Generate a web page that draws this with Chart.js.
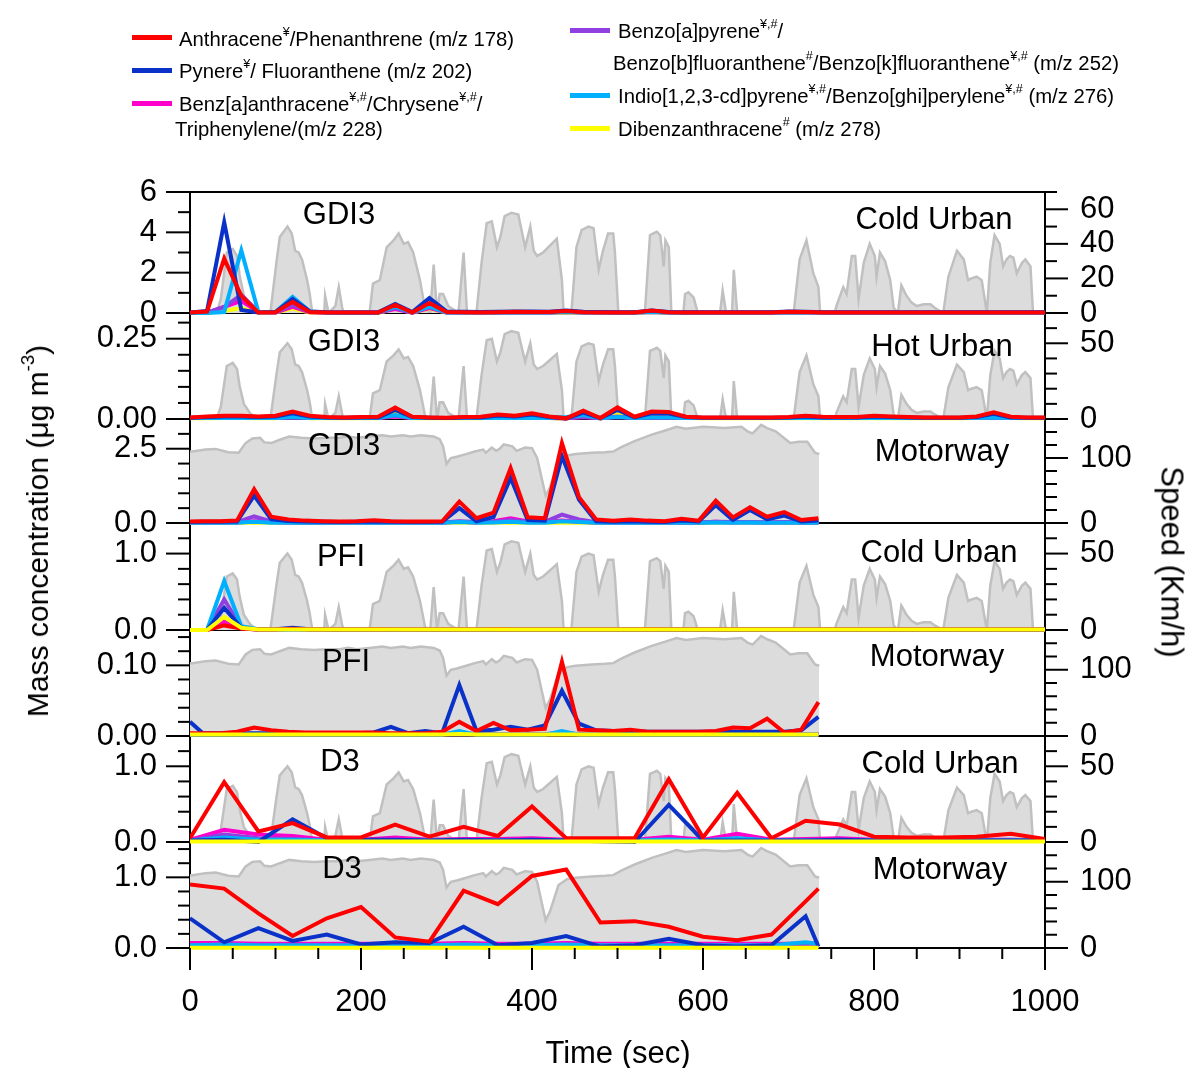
<!DOCTYPE html>
<html><head><meta charset="utf-8">
<script src="https://cdn.jsdelivr.net/npm/chart.js@4.4.1/dist/chart.umd.min.js"></script>
<style>
html,body{margin:0;padding:0;background:#fff;}
#wrap{position:relative;width:1192px;height:1068px;overflow:hidden;font-family:Arial,"Liberation Sans",sans-serif;color:#000;}
#c{position:absolute;left:0;top:0;}
.t{position:absolute;white-space:nowrap;line-height:1;}
.lg{font-size:20.3px;transform:translateY(-50%);}
.sw{position:absolute;width:40px;height:5px;}
.big{font-size:31px;transform:translate(-50%,-50%);}
sup{font-size:0.62em;line-height:0;vertical-align:0.75em;}
</style></head>
<body><div id="wrap">
<canvas id="c" width="1192" height="1068"></canvas>
<div class="sw" style="left:132px;top:35px;background:#ff0000"></div>
<div class="t lg" style="left:179px;top:39px">Anthracene<sup>¥</sup>/Phenanthrene (m/z 178)</div>
<div class="sw" style="left:132px;top:68px;background:#0a32c8"></div>
<div class="t lg" style="left:179px;top:71px">Pynere<sup>¥</sup>/ Fluoranthene (m/z 202)</div>
<div class="sw" style="left:132px;top:101px;background:#ff00cc"></div>
<div class="t lg" style="left:179px;top:104px">Benz[a]anthracene<sup>¥,#</sup>/Chrysene<sup>¥,#</sup>/</div>
<div class="t lg" style="left:175px;top:129px">Triphenylene/(m/z 228)</div>
<div class="sw" style="left:570px;top:28px;background:#9040e0"></div>
<div class="t lg" style="left:618px;top:31px">Benzo[a]pyrene<sup>¥,#</sup>/</div>
<div class="t lg" style="left:613px;top:63px">Benzo[b]fluoranthene<sup>#</sup>/Benzo[k]fluoranthene<sup>¥,#</sup> (m/z 252)</div>
<div class="sw" style="left:570px;top:93px;background:#00b0ff"></div>
<div class="t lg" style="left:618px;top:96px">Indio[1,2,3-cd]pyrene<sup>¥,#</sup>/Benzo[ghi]perylene<sup>¥,#</sup> (m/z 276)</div>
<div class="sw" style="left:570px;top:126px;background:#ffff00"></div>
<div class="t lg" style="left:618px;top:129px">Dibenzanthracene<sup>#</sup> (m/z 278)</div>

<div class="t" style="left:38px;top:531px;font-size:30px;transform:translate(-50%,-50%) rotate(-90deg)">Mass concentration (μg m<sup>-3</sup>)</div>
<div class="t" style="left:1172px;top:562px;font-size:31px;transform:translate(-50%,-50%) rotate(90deg)">Speed (Km/h)</div>
<div class="t big" style="left:618px;top:1052px">Time (sec)</div>
<div id="labels"></div>
</div>
<script>
// ---------------- DATA ----------------
const tUrban20 = [0,20,40,60,80,100,120,140,160,180,200,220,240,260,280,300,320,340,360,380,400,420,440,460,480,500,520,540,560,580,600,620,640,660,680,700,720,740,760,780,800,820,840,860,880,900,920,940,960,980,1000];
const tMotor = [0,15,35,55,75,95,115,135,155,175,195,215,235,255,275,295,315,335,355,375,395,415,435,455,475,495,515,535,555,575,595,615,635,655,675,695,715,735];
const tUrban40 = [0,40,80,120,160,200,240,280,320,360,400,440,480,520,560,600,640,680,720,760,800,840,880,920,960,1000];
const tMotor40 = [0,40,80,120,160,200,240,280,320,360,400,440,480,520,560,600,640,680,720,735];

// Panel 1: GDI3 Cold Urban
const p1Red = [0.02,0.07,2.70,0.85,0.02,0.04,0.55,0.05,0.02,0.02, 0.02,0.02,0.40,0.02,0.50,0.05,0.04,0.03,0.04,0.06, 0.05,0.05,0.10,0.04,0.03,0.03,0.03,0.12,0.04,0.03, 0.03,0.03,0.03,0.03,0.03,0.06,0.05,0.03,0.03,0.03, 0.03,0.03,0.03,0.03,0.03,0.03,0.03,0.03,0.03,0.03,0.03];
const p1Blue = [0.03,0.10,4.50,0.15,0.02,0.05,0.70,0.08,0.04,0.03, 0.03,0.03,0.45,0.05,0.74,0.08,0.06,0.05,0.06,0.08, 0.07,0.06,0.12,0.06,0.05,0.04,0.04,0.12,0.05,0.04, 0.04,0.04,0.04,0.04,0.04,0.07,0.06,0.04,0.04,0.04, 0.04,0.04,0.04,0.04,0.04,0.04,0.04,0.04,0.04,0.04,0.04];
const p1Magenta = [0.00,0.02,0.30,0.60,0.05,0.03,0.30,0.04,0.02,0.02, 0.02,0.02,0.20,0.02,0.25,0.03,0.02,0.02,0.02,0.03, 0.02,0.02,0.05,0.02,0.02,0.02,0.02,0.05,0.02,0.02, 0.02,0.02,0.02,0.02,0.02,0.02,0.02,0.02,0.02,0.02, 0.02,0.02,0.02,0.02,0.02,0.02,0.02,0.02,0.02,0.02,0.02];
const p1Purple = [0.00,0.02,0.30,0.90,0.05,0.03,0.40,0.05,0.02,0.02, 0.02,0.02,0.25,0.02,0.35,0.03,0.02,0.02,0.02,0.03, 0.02,0.02,0.06,0.02,0.02,0.02,0.02,0.06,0.02,0.02, 0.02,0.02,0.02,0.02,0.02,0.02,0.02,0.02,0.02,0.02, 0.02,0.02,0.02,0.02,0.02,0.02,0.02,0.02,0.02,0.02,0.02];
const p1Cyan = [0.00,0.00,0.05,3.10,0.05,0.05,0.80,0.08,0.03,0.02, 0.02,0.02,0.30,0.03,0.30,0.03,0.02,0.02,0.02,0.03, 0.02,0.02,0.05,0.02,0.02,0.02,0.02,0.05,0.02,0.02, 0.02,0.02,0.02,0.02,0.02,0.02,0.02,0.02,0.02,0.02, 0.02,0.02,0.02,0.02,0.02,0.02,0.02,0.02,0.02,0.02,0.02];
const p1Yellow = [0.00,0.00,0.10,0.25,0.02,0.02,0.22,0.02,0.00,0.00, 0.00,0.00,0.22,0.01,0.22,0.02,0.00,0.00,0.00,0.01, 0.00,0.00,0.03,0.00,0.00,0.00,0.00,0.05,0.00,0.00, 0.00,0.00,0.00,0.00,0.00,0.00,0.00,0.00,0.00,0.00, 0.00,0.00,0.00,0.00,0.00,0.00,0.00,0.00,0.00,0.00,0.00];

// Panel 2: GDI3 Hot Urban
const p2Red = [0.005,0.008,0.010,0.010,0.008,0.010,0.023,0.010,0.006,0.005, 0.006,0.007,0.036,0.007,0.005,0.004,0.006,0.007,0.014,0.010, 0.018,0.008,0.002,0.026,0.003,0.036,0.007,0.023,0.022,0.007, 0.005,0.005,0.005,0.005,0.005,0.006,0.010,0.007,0.006,0.006, 0.010,0.008,0.006,0.005,0.005,0.005,0.008,0.021,0.007,0.005,0.005];
const p2Blue = [0.004,0.006,0.008,0.008,0.006,0.008,0.018,0.008,0.005,0.004, 0.005,0.005,0.028,0.006,0.004,0.003,0.005,0.005,0.011,0.008, 0.014,0.006,0.002,0.020,0.003,0.028,0.005,0.018,0.017,0.006, 0.004,0.004,0.004,0.004,0.004,0.005,0.008,0.005,0.005,0.005, 0.008,0.006,0.005,0.004,0.004,0.004,0.006,0.016,0.005,0.004,0.004];
const p2Magenta = [0.003,0.003,0.004,0.004,0.003,0.003,0.006,0.003,0.003,0.003, 0.003,0.003,0.008,0.003,0.003,0.003,0.003,0.003,0.008,0.003, 0.005,0.003,0.002,0.006,0.002,0.006,0.003,0.005,0.005,0.003, 0.003,0.003,0.003,0.003,0.003,0.003,0.003,0.003,0.003,0.003, 0.003,0.003,0.003,0.003,0.003,0.003,0.003,0.003,0.003,0.003,0.003];
const p2Purple = [0.003,0.003,0.003,0.003,0.003,0.003,0.005,0.003,0.003,0.003, 0.003,0.003,0.010,0.003,0.003,0.003,0.003,0.003,0.004,0.003, 0.004,0.003,0.002,0.006,0.002,0.008,0.003,0.004,0.004,0.003, 0.003,0.003,0.003,0.003,0.003,0.003,0.003,0.003,0.003,0.003, 0.003,0.003,0.003,0.003,0.003,0.003,0.003,0.003,0.003,0.003,0.003];
const p2Cyan = [0.003,0.003,0.003,0.003,0.003,0.003,0.006,0.003,0.003,0.003, 0.003,0.003,0.012,0.003,0.003,0.003,0.003,0.003,0.004,0.003, 0.004,0.003,0.006,0.012,0.002,0.006,0.003,0.005,0.005,0.003, 0.003,0.003,0.003,0.003,0.003,0.003,0.003,0.003,0.003,0.003, 0.003,0.003,0.003,0.003,0.003,0.003,0.003,0.005,0.003,0.003,0.003];
const p2Yellow = [0.002,0.002,0.003,0.003,0.002,0.002,0.012,0.002,0.002,0.002, 0.002,0.002,0.022,0.002,0.002,0.002,0.002,0.002,0.010,0.004, 0.012,0.003,0.001,0.015,0.001,0.020,0.003,0.014,0.014,0.003, 0.002,0.002,0.002,0.002,0.002,0.002,0.002,0.002,0.002,0.002, 0.002,0.002,0.002,0.002,0.002,0.002,0.003,0.012,0.003,0.002,0.002];

// Panel 3: GDI3 Motorway
const p3Red = [0.05,0.06,0.06,0.08,1.14,0.21,0.12,0.08,0.06,0.05, 0.06,0.09,0.06,0.05,0.05,0.06,0.72,0.16,0.35,1.85, 0.19,0.16,2.69,0.87,0.12,0.08,0.12,0.08,0.06,0.14, 0.08,0.75,0.19,0.53,0.21,0.37,0.10,0.16];
const p3Blue = [0.03,0.04,0.04,0.05,0.92,0.12,0.07,0.05,0.04,0.03, 0.04,0.05,0.04,0.03,0.03,0.04,0.50,0.06,0.20,1.52, 0.10,0.08,2.25,0.78,0.06,0.04,0.06,0.04,0.03,0.08, 0.05,0.60,0.10,0.44,0.12,0.25,0.05,0.08];
const p3Magenta = [0.02,0.02,0.02,0.02,0.06,0.03,0.02,0.02,0.02,0.02, 0.02,0.02,0.02,0.02,0.02,0.02,0.04,0.02,0.06,0.16, 0.05,0.03,0.08,0.04,0.02,0.02,0.02,0.02,0.02,0.02, 0.02,0.04,0.02,0.03,0.02,0.03,0.02,0.02];
const p3Purple = [0.02,0.02,0.02,0.03,0.22,0.05,0.03,0.02,0.02,0.02, 0.02,0.02,0.02,0.02,0.02,0.02,0.06,0.03,0.04,0.10, 0.04,0.04,0.28,0.12,0.03,0.02,0.02,0.02,0.02,0.02, 0.02,0.04,0.03,0.03,0.02,0.03,0.02,0.02];
const p3Cyan = [0.01,0.01,0.01,0.01,0.04,0.01,0.01,0.01,0.01,0.01, 0.01,0.01,0.01,0.01,0.01,0.01,0.03,0.01,0.02,0.04, 0.01,0.01,0.06,0.03,0.01,0.01,0.01,0.01,0.01,0.01, 0.01,0.02,0.01,0.02,0.01,0.01,0.01,0.01];
const p3Yellow = [0.005,0.005,0.005,0.005,0.005,0.005,0.005,0.005,0.005,0.005, 0.005,0.005,0.005,0.005,0.005,0.005,0.005,0.005,0.005,0.005, 0.005,0.005,0.005,0.005,0.005,0.005,0.005,0.005,0.005,0.005, 0.005,0.005,0.005,0.005,0.005,0.005,0.005,0.005];

// Panel 4: PFI Cold Urban
const p4Red = [0.00,0.00,0.06,0.02,0.005,0.005,0.015,0.005,0.005,0.005, 0.005,0.010,0.005,0.005,0.005,0.005,0.005,0.005,0.010,0.005, 0.005,0.005,0.005,0.005,0.005,0.005,0.005,0.010,0.005,0.005, 0.005,0.005,0.005,0.005,0.005,0.005,0.005,0.005,0.005,0.005, 0.005,0.005,0.005,0.005,0.005,0.005,0.005,0.005,0.005,0.005,0.005];
const p4Blue = [0.00,0.00,0.29,0.03,0.005,0.010,0.030,0.010,0.005,0.005, 0.005,0.005,0.005,0.005,0.005,0.005,0.005,0.005,0.005,0.005, 0.005,0.005,0.005,0.005,0.005,0.005,0.005,0.005,0.005,0.005, 0.005,0.005,0.005,0.005,0.005,0.005,0.005,0.005,0.005,0.005, 0.005,0.005,0.005,0.005,0.005,0.005,0.005,0.005,0.005,0.005,0.005];
const p4Magenta = [0.00,0.00,0.12,0.02,0.005,0.005,0.010,0.005,0.005,0.005, 0.005,0.008,0.005,0.005,0.005,0.005,0.005,0.005,0.008,0.005, 0.005,0.005,0.005,0.005,0.005,0.005,0.005,0.005,0.005,0.005, 0.005,0.005,0.005,0.005,0.005,0.005,0.005,0.005,0.005,0.005, 0.005,0.005,0.005,0.005,0.005,0.005,0.005,0.005,0.005,0.005,0.005];
const p4Purple = [0.00,0.00,0.40,0.03,0.004,0.004,0.006,0.004,0.004,0.004, 0.004,0.004,0.004,0.004,0.004,0.004,0.004,0.004,0.004,0.004, 0.004,0.004,0.004,0.004,0.004,0.004,0.004,0.004,0.004,0.004, 0.004,0.004,0.004,0.004,0.004,0.004,0.004,0.004,0.004,0.004, 0.004,0.004,0.004,0.004,0.004,0.004,0.004,0.004,0.004,0.004,0.004];
const p4Cyan = [0.00,0.00,0.64,0.05,0.010,0.004,0.006,0.004,0.004,0.004, 0.004,0.004,0.004,0.004,0.004,0.004,0.004,0.004,0.004,0.004, 0.004,0.004,0.004,0.004,0.004,0.004,0.004,0.004,0.004,0.004, 0.004,0.004,0.004,0.004,0.004,0.004,0.004,0.004,0.004,0.004, 0.004,0.004,0.004,0.004,0.004,0.004,0.004,0.004,0.004,0.004,0.004];
const p4Yellow = [0.00,0.00,0.17,0.03,0.006,0.006,0.006,0.006,0.006,0.006, 0.006,0.006,0.006,0.006,0.006,0.006,0.006,0.006,0.006,0.006, 0.006,0.006,0.006,0.006,0.006,0.006,0.006,0.006,0.006,0.006, 0.006,0.006,0.006,0.006,0.006,0.006,0.006,0.006,0.006,0.006, 0.006,0.006,0.006,0.006,0.006,0.006,0.006,0.006,0.006,0.006,0.006];

// Panel 5: PFI Motorway
const p5Red = [0.004,0.004,0.004,0.006,0.012,0.008,0.006,0.005,0.005,0.005, 0.005,0.005,0.004,0.004,0.004,0.006,0.020,0.007,0.0185,0.008, 0.009,0.010,0.105,0.009,0.008,0.007,0.009,0.006,0.006,0.006, 0.006,0.007,0.012,0.011,0.0245,0.005,0.009,0.048];
const p5Blue = [0.020,0.004,0.004,0.004,0.004,0.004,0.004,0.004,0.004,0.004, 0.004,0.005,0.013,0.004,0.007,0.004,0.072,0.007,0.009,0.013, 0.009,0.015,0.064,0.0175,0.008,0.007,0.007,0.006,0.006,0.006, 0.006,0.006,0.006,0.006,0.006,0.006,0.008,0.027];
const p5Magenta = [0.003,0.003,0.003,0.003,0.003,0.003,0.003,0.003,0.003,0.003, 0.003,0.003,0.003,0.003,0.003,0.003,0.004,0.003,0.003,0.003, 0.003,0.003,0.004,0.003,0.003,0.003,0.003,0.003,0.003,0.003, 0.003,0.003,0.003,0.003,0.003,0.003,0.003,0.003];
const p5Purple = [0.002,0.002,0.002,0.002,0.002,0.002,0.002,0.002,0.002,0.002, 0.002,0.002,0.002,0.002,0.002,0.002,0.002,0.002,0.002,0.002, 0.002,0.002,0.003,0.002,0.002,0.002,0.002,0.002,0.002,0.002, 0.002,0.002,0.002,0.002,0.002,0.002,0.002,0.002];
const p5Cyan = [0.002,0.002,0.002,0.002,0.002,0.002,0.002,0.002,0.002,0.002, 0.002,0.002,0.002,0.002,0.002,0.002,0.007,0.002,0.002,0.002, 0.002,0.002,0.007,0.002,0.002,0.002,0.002,0.002,0.002,0.002, 0.002,0.002,0.002,0.002,0.002,0.002,0.002,0.002];
const p5Yellow = [0.002,0.002,0.002,0.002,0.002,0.002,0.002,0.002,0.002,0.002, 0.002,0.002,0.002,0.002,0.002,0.002,0.003,0.002,0.002,0.002, 0.002,0.002,0.002,0.002,0.002,0.002,0.002,0.002,0.002,0.002, 0.002,0.002,0.002,0.002,0.002,0.002,0.002,0.002];

// Panel 6: D3 Cold Urban
const p6Red = [0.05,0.79,0.14,0.25,0.06,0.06,0.23,0.07,0.20,0.08, 0.47,0.05,0.05,0.05,0.83,0.06,0.65,0.05,0.28,0.23, 0.07,0.06,0.06,0.07,0.11,0.04];
const p6Blue = [0.02,0.03,0.00,0.30,0.05,0.03,0.03,0.02,0.03,0.02, 0.03,0.02,0.01,0.00,0.49,0.02,0.02,0.02,0.02,0.03, 0.02,0.02,0.02,0.02,0.02,0.02];
const p6Magenta = [0.03,0.16,0.10,0.08,0.03,0.03,0.06,0.03,0.04,0.04, 0.05,0.03,0.02,0.03,0.07,0.03,0.11,0.03,0.04,0.05, 0.03,0.03,0.03,0.03,0.03,0.02];
const p6Purple = [0.02,0.10,0.05,0.04,0.02,0.02,0.03,0.02,0.02,0.02, 0.03,0.02,0.02,0.02,0.04,0.02,0.05,0.02,0.02,0.03, 0.02,0.02,0.02,0.02,0.02,0.02];
const p6Cyan = [0.02,0.06,0.03,0.03,0.02,0.02,0.02,0.02,0.02,0.02, 0.02,0.02,0.02,0.02,0.03,0.02,0.05,0.02,0.02,0.02, 0.02,0.02,0.02,0.02,0.02,0.02];
const p6Yellow = [0.005,0.005,0.005,0.005,0.005,0.005,0.005,0.005,0.005,0.005, 0.005,0.005,0.005,0.005,0.005,0.005,0.005,0.005,0.005,0.005, 0.005,0.005,0.005,0.005,0.005,0.005];

// Panel 7: D3 Motorway
const p7Red = [0.90,0.84,0.49,0.17,0.42,0.58,0.15,0.09,0.81,0.62, 1.02,1.11,0.36,0.38,0.30,0.16,0.11,0.19,0.66,0.84];
const p7Blue = [0.42,0.08,0.28,0.10,0.19,0.05,0.08,0.07,0.30,0.04, 0.07,0.17,0.02,0.04,0.13,0.04,0.02,0.04,0.45,0.02];
const p7Magenta = [0.07,0.07,0.06,0.06,0.06,0.06,0.06,0.06,0.07,0.06, 0.06,0.07,0.06,0.06,0.06,0.06,0.06,0.06,0.06,0.07];
const p7Purple = [0.03,0.03,0.03,0.03,0.03,0.03,0.03,0.03,0.03,0.03, 0.03,0.03,0.03,0.03,0.03,0.03,0.03,0.03,0.03,0.03];
const p7Cyan = [0.04,0.05,0.04,0.04,0.04,0.04,0.04,0.04,0.05,0.04, 0.04,0.05,0.04,0.04,0.04,0.04,0.04,0.04,0.08,0.06];
const p7Yellow = [0.005,0.005,0.005,0.005,0.005,0.005,0.005,0.005,0.005,0.005, 0.005,0.005,0.005,0.005,0.005,0.005,0.005,0.005,0.005,0.005];

// Vehicle speed traces (km/h)
const urbanSpeedT = [0,31,36,43,50,55,58,63,70,78, 94,101,105,111,114,119,123,127,131,137, 140,143,157,158,162,170,174,178,180,210, 214,222,230,238,244,250,255,261,269,275, 281,285,289,292,296,302,314,320,324,335, 341,347,353,359,363,368,376,384,386,392, 398,402,406,413,421,429,435,437,446,452, 458,466,472,478,483,489,495,497,501,532, 538,542,546,550,554,556,560,563,577,579, 583,589,594,620,623,627,634,636,640,706, 713,721,729,735,737,754,756,764,768,774, 778,782,788,795,801,803,807,813,819,823, 828,832,838,844,850,858,866,871,881,887, 897,905,910,914,920,926,932,936,941,947, 951,955,959,963,967,973,977,983,986,1000];
const urbanSpeedV = [0,0,8,35,37,33,22,10,4,0, 0,29,44,48,50,46,36,35,31,19, 11,0,0,10,0,4,15,3,0,0, 17,19,38,42,46,40,41,35,19,2, 0,28,0,11,11,4,0,35,0,0, 29,52,53,38,44,56,58,57,52,38, 50,36,33,35,39,43,19,0,0,38, 48,50,49,25,36,46,46,35,0,0, 45,46,47,45,27,42,38,0,0,11, 12,9,0,0,13,0,0,25,0,0, 31,42,23,15,0,0,4,15,11,33, 33,8,29,40,33,21,35,30,19,3, 0,16,10,6,4,5,5,3,0,21, 36,31,19,20,21,19,0,29,45,40, 27,31,33,32,23,29,31,27,0,0];
const motorSpeedT = [0,3,18,30,45,57,65,73,82,87, 95,105,116,130,145,160,175,185,195,210, 225,235,249,258,270,285,292,296,300,305, 312,323,333,343,346,353,358,362,367,377, 382,392,400,406,412,416,421,431,441,451, 470,485,495,505,520,540,555,569,580,600, 625,645,652,658,668,675,685,702,712,722, 731,736];
const motorSpeedV = [110,110,113,114,109,108,123,130,131,124, 123,128,133,131,130,131,131,133,131,133, 135,133,135,133,135,133,129,118,91,100, 102,106,110,113,108,116,111,114,121,118, 111,116,115,100,65,42,55,95,104,106, 108,109,110,117,126,136,142,148,145,148, 146,148,141,138,151,146,141,123,125,125, 108,106];

// Panel definitions
const panelEngine = ['GDI3','GDI3','GDI3','PFI','PFI','D3','D3'];
const panelCycle = ['Cold Urban','Hot Urban','Motorway','Cold Urban','Motorway','Cold Urban','Motorway'];
const panelTimes = [tUrban20,tUrban20,tMotor,tUrban20,tMotor,tUrban40,tMotor40];
const panelSeries = [
  [p1Red,p1Blue,p1Magenta,p1Purple,p1Cyan,p1Yellow],
  [p2Red,p2Blue,p2Magenta,p2Purple,p2Cyan,p2Yellow],
  [p3Red,p3Blue,p3Magenta,p3Purple,p3Cyan,p3Yellow],
  [p4Red,p4Blue,p4Magenta,p4Purple,p4Cyan,p4Yellow],
  [p5Red,p5Blue,p5Magenta,p5Purple,p5Cyan,p5Yellow],
  [p6Red,p6Blue,p6Magenta,p6Purple,p6Cyan,p6Yellow],
  [p7Red,p7Blue,p7Magenta,p7Purple,p7Cyan,p7Yellow]
];
const panelSpeedIsMotor = [false,false,true,false,true,false,true];
const seriesNames = ['Anthracene/Phenanthrene','Pynere/Fluoranthene','Benz[a]anthracene/Chrysene/Triphenylene','Benzo[a]pyrene/Benzo[b]fluoranthene/Benzo[k]fluoranthene','Indio[1,2,3-cd]pyrene/Benzo[ghi]perylene','Dibenzanthracene'];
const leftMax = [6,0.33,3.5,1.4,0.15,1.4,1.5];
const leftTicks = [[0,2,4,6],[0,0.25],[0,2.5],[0,1],[0,0.1],[0,1],[0,1]];
const leftTickLabels = [['0','2','4','6'],['0.00','0.25'],['0.0','2.5'],['0.0','1.0'],['0.00','0.10'],['0.0','1.0'],['0.0','1.0']];
const leftMinorStep = [1,0.05,0.5,0.2,0.02,0.2,0.2];
const rightMax = [70,70,160,70,160,70,160];
const rightTicks = [[0,20,40,60],[0,50],[0,100],[0,50],[0,100],[0,50],[0,100]];
const rightMinorStep = [10,10,20,10,20,10,20];
const xTicks = [0,200,400,600,800,1000];

// ---------------- STYLE / LAYOUT ----------------
const seriesColors = ['#ff0000','#0a32c8','#ff00cc','#9040e0','#00b0ff','#ffff00'];
const panelHeights = [121,106,104,107,106,106,106];
const FONT = {family:'Arial, "Liberation Sans", sans-serif', size:31};
const labelPos = [ // [engine cx, engine cy, cycle cx, cycle cy]
  [339,213,934,218],[344,340,942,345],[344,444,942,450],[341,555,939,551],
  [346,660,937,655],[340,760,940,762],[342,867,940,868]];

function pts(ts, vs){ return ts.map((t,i)=>({x:t,y:vs[i]})); }

const datasets = [];
for (let k=0;k<7;k++){
  const st = panelSpeedIsMotor[k] ? motorSpeedT : urbanSpeedT;
  const sv = panelSpeedIsMotor[k] ? motorSpeedV : urbanSpeedV;
  datasets.push({label:'Speed '+(k+1), data:pts(st,sv), yAxisID:'yR'+(k+1), xAxisID:'x',
    fill:'origin', backgroundColor:'#dcdcdc', borderColor:'#c0c0c0', borderWidth:2.5,
    pointRadius:0, tension:0, order:100});
  const yellowTop = k>=3;
  const orders = yellowTop ? [1,2,5,4,3,0] : [1,2,5,4,3,6];
  for (let j=0;j<6;j++){
    datasets.push({label:seriesNames[j]+' '+(k+1), data:pts(panelTimes[k], panelSeries[k][j]),
      yAxisID:'yL'+(k+1), xAxisID:'x', borderColor:seriesColors[j], backgroundColor:seriesColors[j],
      borderWidth:4, pointRadius:0, tension:0, fill:false, order:orders[j],
      clip:{left:0,right:0,top:3,bottom:3}});
  }
}

const scales = {
  x: {type:'linear', position:'bottom', min:0, max:1000,
      afterBuildTicks: s => { s.ticks = xTicks.map(v=>({value:v})); },
      ticks:{font:FONT, color:'#000', padding:36, maxRotation:0, autoSkip:false, callback:v=>String(v)},
      grid:{display:false, drawTicks:false, tickLength:0},
      border:{display:true, color:'#000', width:2},
      afterFit: s => { s.height = 120; }}
};
for (let k=0;k<7;k++){
  scales['yL'+(k+1)] = {type:'linear', position:'left', stack:'L', stackWeight:panelHeights[k], weight:7-k,
    min:0, max:leftMax[k],
    afterBuildTicks: s => { s.ticks = leftTicks[k].map(v=>({value:v})); },
    ticks:{font:FONT, color:'#000', padding:33, autoSkip:false, callback:(v,i)=>leftTickLabels[k][i]},
    grid:{display:false, drawTicks:false, tickLength:0},
    border:{display:true, color:'#000', width:2},
    afterFit: s => { s.width = 190; }};
  scales['yR'+(k+1)] = {type:'linear', position:'right', stack:'R', stackWeight:panelHeights[k], weight:k+1,
    min:0, max:rightMax[k],
    afterBuildTicks: s => { s.ticks = rightTicks[k].map(v=>({value:v})); },
    ticks:{font:FONT, color:'#000', padding:35, autoSkip:false, callback:v=>String(v)},
    grid:{display:false, drawTicks:false, tickLength:0},
    border:{display:true, color:'#000', width:2},
    afterFit: s => { s.width = 147; }};
}

function seg(ctx,x1,y1,x2,y2){ ctx.beginPath(); ctx.moveTo(x1,y1); ctx.lineTo(x2,y2); ctx.stroke(); }
const framePlugin = {
  id:'frame',
  beforeDatasetsDraw(chart){
    const ctx = chart.ctx, xs = chart.scales.x;
    ctx.save(); ctx.strokeStyle='#000'; ctx.lineWidth=2;
    seg(ctx, xs.left, chart.scales.yL1.top, xs.right, chart.scales.yL1.top);
    for (let k=0;k<7;k++){ const s = chart.scales['yL'+(k+1)]; const y = s.getPixelForValue(0); seg(ctx, xs.left, y, xs.right, y); }
    ctx.restore();
  },
  afterDraw(chart){
    const ctx = chart.ctx, xs = chart.scales.x;
    ctx.save(); ctx.strokeStyle='#000'; ctx.lineWidth=2; ctx.lineCap='butt';
    for (let k=0;k<7;k++){
      const sL = chart.scales['yL'+(k+1)], sR = chart.scales['yR'+(k+1)];
      const majL = leftTicks[k][1], majR = rightTicks[k][1];
      for (let i=0;;i++){
        const v = i*leftMinorStep[k]; if (v > leftMax[k]+1e-9) break;
        const r = v/majL, major = Math.abs(r-Math.round(r))<1e-6;
        const y = sL.getPixelForValue(v); seg(ctx, sL.right-(major?24:12), y, sL.right, y);
      }
      for (let i=0;;i++){
        const v = i*rightMinorStep[k]; if (v > rightMax[k]+1e-9) break;
        const r = v/majR, major = Math.abs(r-Math.round(r))<1e-6;
        const y = sR.getPixelForValue(v); seg(ctx, sR.left, y, sR.left+(major?23:12), y);
      }
    }
    for (let v=0; v<=1000; v+=50){
      const x = xs.getPixelForValue(v); seg(ctx, x, xs.top, x, xs.top + (v%200===0?22:11));
    }
    ctx.restore();
  }
};

new Chart(document.getElementById('c'), {
  type:'line',
  data:{datasets},
  options:{
    responsive:false, animation:false, events:[],
    layout:{padding:{top:192,left:0,right:0,bottom:0}},
    plugins:{legend:{display:false}, tooltip:{enabled:false}},
    scales
  },
  plugins:[framePlugin]
});

// panel labels (text)
const lab = document.getElementById('labels');
for (let k=0;k<7;k++){
  const p = labelPos[k];
  const a = document.createElement('div'); a.className='t big'; a.style.left=p[0]+'px'; a.style.top=p[1]+'px'; a.textContent=panelEngine[k]; lab.appendChild(a);
  const b = document.createElement('div'); b.className='t big'; b.style.left=p[2]+'px'; b.style.top=p[3]+'px'; b.textContent=panelCycle[k]; lab.appendChild(b);
}
</script>
</body></html>
